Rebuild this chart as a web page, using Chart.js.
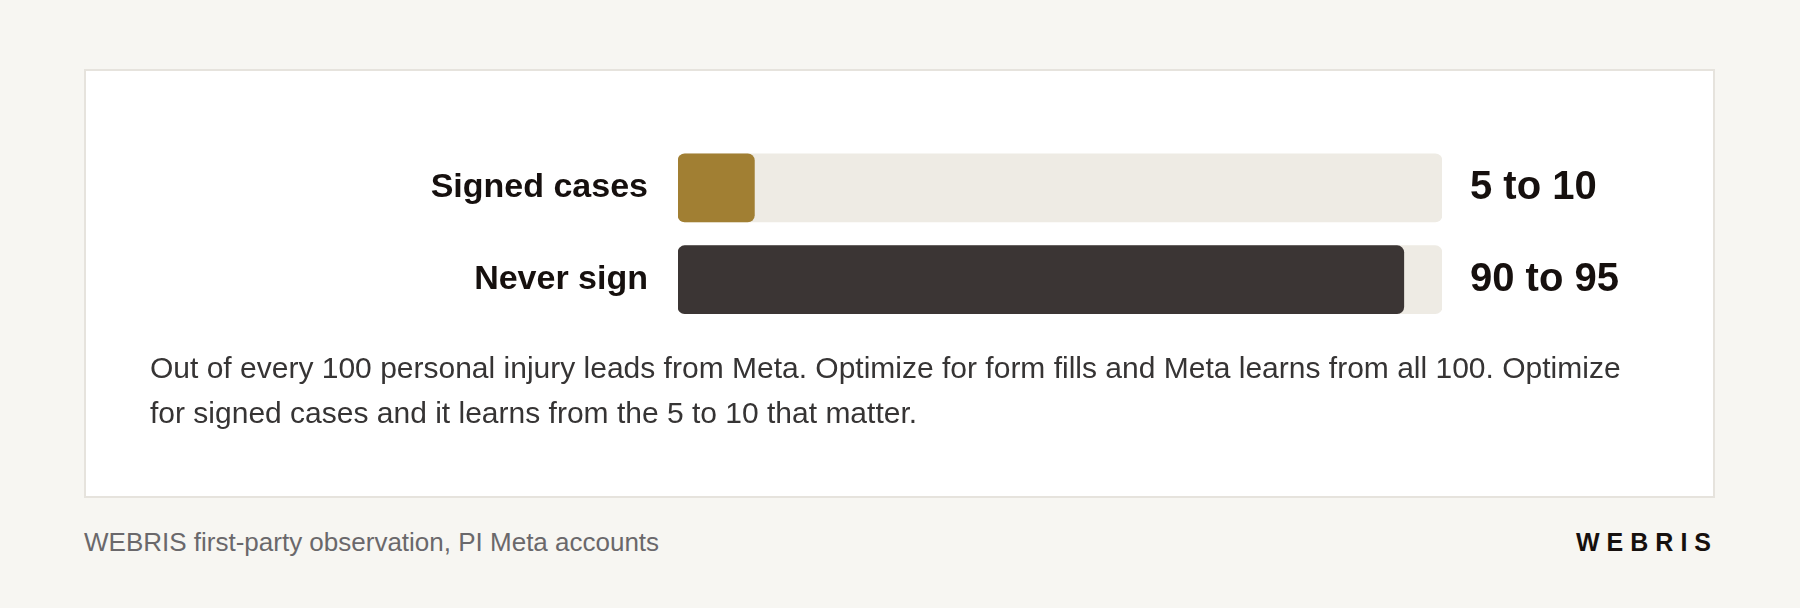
<!DOCTYPE html>
<html>
<head>
<meta charset="utf-8">
<title>Signed cases vs never sign</title>
<script src="https://cdn.jsdelivr.net/npm/chart.js@4.4.1/dist/chart.umd.min.js"></script>
<style>
  html, body { margin: 0; padding: 0; }
  body {
    width: 1800px; height: 608px; position: relative; overflow: hidden;
    background: #f7f6f2; font-family: "Liberation Sans", Arial, sans-serif;
  }
  .card {
    position: absolute; left: 84px; top: 69px; width: 1627px; height: 425px;
    background: #ffffff; border: 2px solid #e6e3dd;
  }
  #leadsChart { position: absolute; left: 0; top: 0; }
  .caption {
    position: absolute; left: 150px; top: 345px; width: 1499px; margin: 0;
    font-size: 30px; line-height: 45px; color: #363434;
  }
  .source {
    position: absolute; left: 84px; top: 527px; font-size: 26px; color: #6a686b;
  }
  .brand {
    position: absolute; right: 82px; top: 528px; font-size: 25px; font-weight: bold;
    letter-spacing: 7px; color: #16100e;
  }
</style>
</head>
<body>
<div class="card"></div>
<canvas id="leadsChart" width="1800" height="376"></canvas>
<p class="caption">Out of every 100 personal injury leads from Meta. Optimize for form fills and Meta learns from all 100. Optimize for signed cases and it learns from the 5 to 10 that matter.</p>
<div class="source">WEBRIS first-party observation, PI Meta accounts</div>
<div class="brand">WEBRIS</div>

<script>
// leads out of every 100
const categories = ['Signed cases', 'Never sign'];
const lowValues = [5, 90];
const highValues = [10, 95];
const TOTAL = 100;
const barColors = ['#a17f33', '#3b3534'];

const rangeLabels = lowValues.map((lo, i) => lo + ' to ' + highValues[i]);

// "5 to 10" style labels to the right of each track
const valueLabels = {
    id: 'valueLabels',
    afterDatasetsDraw(chart) {
        const ctx = chart.ctx;
        const meta = chart.getDatasetMeta(0);
        ctx.save();
        ctx.font = 'bold 40px "Liberation Sans", Arial, sans-serif';
        ctx.fillStyle = '#16100e';
        ctx.textAlign = 'left';
        ctx.textBaseline = 'middle';
        meta.data.forEach((bar, i) => {
            ctx.fillText(rangeLabels[i], chart.chartArea.right + 28, bar.y);
        });
        ctx.restore();
    }
};

document.addEventListener('DOMContentLoaded', function () {
    const ctx = document.getElementById('leadsChart').getContext('2d');
    new Chart(ctx, {
        type: 'bar',
        data: {
            labels: categories,
            datasets: [
                {
                    label: 'Leads',
                    data: highValues,
                    backgroundColor: barColors,
                    borderRadius: 7,
                    borderSkipped: false,
                    barThickness: 68,
                    grouped: false
                },
                {
                    label: 'Track',
                    data: categories.map(() => TOTAL),
                    backgroundColor: '#eeebe4',
                    borderRadius: 7,
                    borderSkipped: false,
                    barThickness: 68,
                    grouped: false
                }
            ]
        },
        options: {
            indexAxis: 'y',
            responsive: false,
            animation: false,
            layout: { padding: { left: 0, right: 358, top: 142, bottom: 14 } },
            scales: {
                x: { display: false, min: 0, max: TOTAL },
                y: {
                    grid: { display: false, drawTicks: false },
                    border: { display: false },
                    ticks: {
                        padding: 30,
                        color: '#16100e',
                        font: { family: '"Liberation Sans", Arial, sans-serif', size: 34, weight: 'bold' }
                    },
                    afterFit: function (scale) { scale.width = 678; }
                }
            },
            plugins: {
                legend: { display: false },
                tooltip: { enabled: false }
            }
        },
        plugins: [valueLabels]
    });
});
</script>
</body>
</html>
